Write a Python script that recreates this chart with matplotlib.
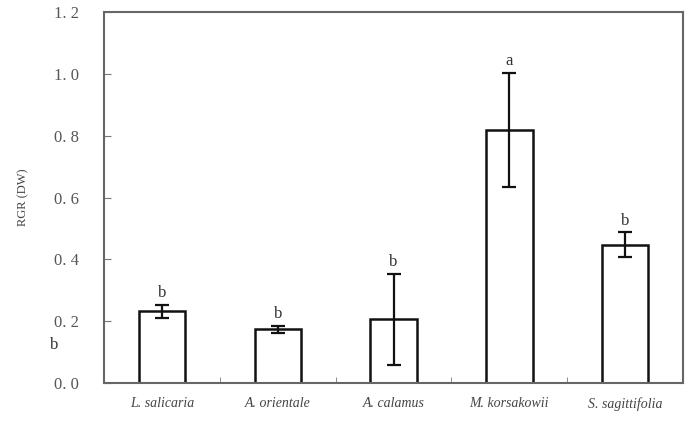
import matplotlib
matplotlib.use('Agg')
import matplotlib.pyplot as plt
import numpy as np

species = ['L. salicaria', 'A. orientale', 'A. calamus', 'M. korsakowii', 'S. sagittifolia']
rgr = [0.233, 0.174, 0.206, 0.819, 0.448]
err = [0.021, 0.011, 0.148, 0.184, 0.040]
letters = ['b', 'b', 'b', 'a', 'b']
yticks = [0.0, 0.2, 0.4, 0.6, 0.8, 1.0, 1.2]
ytick_labels = ['0. 0', '0. 2', '0. 4', '0. 6', '0. 8', '1. 0', '1. 2']

plt.rcParams['font.family'] = 'Liberation Serif'
ink = '#333333'

fig = plt.figure(figsize=(6.88, 4.21), dpi=100)
ax = fig.add_axes([0.151, 0.090, 0.842, 0.881])

x = np.arange(len(species))
ax.bar(x, rgr, width=0.4, color='white', edgecolor='#111111', linewidth=1.8)
ax.errorbar(x, rgr, yerr=err, fmt='none', ecolor='#111111', elinewidth=1.6,
            capsize=5, capthick=1.6)
for xi, v, e, t in zip(x, rgr, err, letters):
    ax.text(xi, v + e + 0.012, t, ha='center', va='bottom', fontsize=12, color=ink)

# stray letter near the y axis in the original
ax.text(-0.93, 0.098, 'b', ha='center', va='bottom', fontsize=12, color=ink,
        clip_on=False)

ax.set_xlim(-0.5, len(species) - 0.5)
ax.set_ylim(0, 1.2)
ax.set_yticks(yticks)
ax.set_yticklabels(ytick_labels, fontsize=12, color='#555555')
ax.set_xticks(x)
ax.set_xticklabels(species, fontsize=10, style='italic', color='#444444')
ax.set_xticks(np.arange(0.5, len(species) - 0.5, 1), minor=True)
ax.tick_params(axis='x', which='major', length=0, pad=10)
ax.tick_params(axis='x', which='minor', direction='in', length=4, color='#777777')
ax.tick_params(axis='y', direction='in', length=5, color='#777777', pad=18)
ax.set_ylabel('RGR (DW)', fontsize=9, color='#444444', labelpad=18)

for s in ax.spines.values():
    s.set_color('#666666')
    s.set_linewidth(1.5)

fig.savefig('out.png', dpi=100)
